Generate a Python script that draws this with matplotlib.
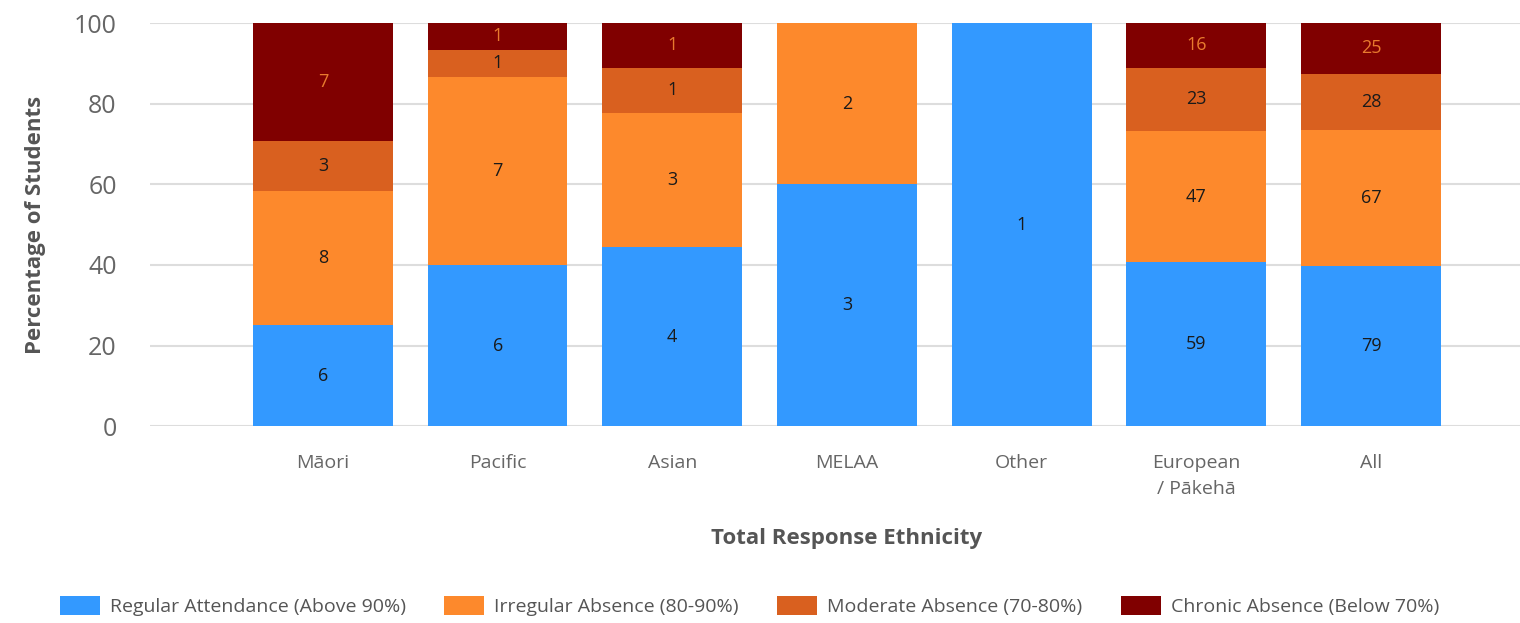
import numpy as np
import matplotlib
matplotlib.use("Agg")
import matplotlib.pyplot as plt

plt.rcParams["font.family"] = ["Open Sans", "DejaVu Sans"]

# counts of students per attendance band
categories = ["Māori", "Pacific", "Asian", "MELAA", "Other", "European\n/ Pākehā", "All"]
regular = [6, 6, 4, 3, 1, 59, 79]
irregular = [8, 7, 3, 2, 0, 47, 67]
moderate = [3, 1, 1, 0, 0, 23, 28]
chronic = [7, 1, 1, 0, 0, 16, 25]

series_names = [
    "Regular Attendance (Above 90%)",
    "Irregular Absence (80-90%)",
    "Moderate Absence (70-80%)",
    "Chronic Absence (Below 70%)",
]
colors = ["#3399FF", "#FD892C", "#D9601F", "#800000"]
label_colors = ["#1A1A1A", "#1A1A1A", "#1A1A1A", "#E87A2E"]

counts = np.array([regular, irregular, moderate, chronic], dtype=float)
pct = counts / counts.sum(axis=0) * 100

fig = plt.figure(figsize=(15.2, 6.23), dpi=100)
ax = fig.add_axes([0.0987, 0.316, 0.9013, 0.647])

x = np.arange(len(categories))
bottom = np.zeros(len(categories))
for i in range(4):
    bars = ax.bar(x, pct[i], 0.8, bottom=bottom, color=colors[i],
                  label=series_names[i], zorder=3)
    for j, b in enumerate(bars):
        if counts[i, j] > 0:
            ax.text(b.get_x() + b.get_width() / 2, bottom[j] + pct[i, j] / 2,
                    f"{int(counts[i, j])}", ha="center", va="center",
                    fontsize=13, color=label_colors[i], zorder=4)
    bottom += pct[i]

ax.set_ylim(0, 100)
ax.set_xlim(-0.99, 6.853)
ax.set_yticks([0, 20, 40, 60, 80, 100])
ax.grid(axis="y", color="#DDDDDD", linewidth=1.5, zorder=0)
for s in ax.spines.values():
    s.set_visible(False)
ax.tick_params(axis="y", length=0, labelsize=18, labelcolor="#666666", pad=24)
ax.tick_params(axis="x", length=0, labelsize=14, labelcolor="#666666", pad=20)
ax.set_xticks(x)
ax.set_xticklabels(categories, linespacing=1.6)

ax.set_ylabel("Percentage of Students", fontsize=16, fontweight="bold",
              color="#555555", labelpad=20)
ax.text(3, -0.28, "Total Response Ethnicity", transform=ax.get_xaxis_transform(),
        ha="center", va="center", fontsize=16, fontweight="bold", color="#555555")

fig.legend(loc="center", bbox_to_anchor=(0.493, 0.027), ncol=4, frameon=False,
           fontsize=14, handlelength=2.05, handleheight=1.1, handletextpad=0.5,
           columnspacing=2.0, labelcolor="#555555")

fig.savefig("out.png", dpi=100)
